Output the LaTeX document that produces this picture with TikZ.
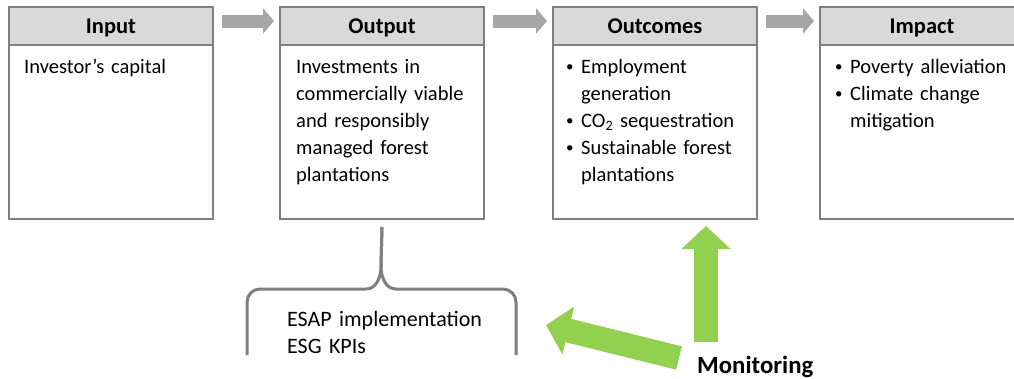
\documentclass[tikz,border=0pt]{standalone}
\usepackage{fontspec}
\setmainfont{Carlito}
\usetikzlibrary{arrows.meta,calc}
\definecolor{boxgray}{HTML}{7F7F7F}
\definecolor{headgray}{HTML}{D9D9D9}
\definecolor{arrowgray}{HTML}{A6A6A6}
\definecolor{leafgreen}{HTML}{92D050}
\newcommand{\puce}{\makebox[15pt][l]{\raisebox{1.8pt}{\fontsize{15}{15}\selectfont\textbullet}}}
\begin{document}
\begin{tikzpicture}[x=1pt,y=-1pt]
\tikzstyle{etape}=[draw=boxgray, line width=2pt, minimum width=204pt, minimum height=212pt, anchor=north west, inner sep=0pt];
\tikzstyle{entete}=[draw=boxgray, line width=2pt, fill=headgray, minimum width=204pt, minimum height=38pt, anchor=north west, inner sep=0pt, text height=19pt, text depth=4pt, font=\fontsize{22.5}{26}\selectfont\bfseries];
\tikzstyle{contenu}=[anchor=base west, inner sep=0pt, text width=200pt, align=left, font=\fontsize{20.5}{27}\selectfont];
\tikzstyle{fleche}=[line width=13pt, arrowgray, -{Triangle[length=11pt,width=25pt]}];
\tikzstyle{suivi}=[line width=24pt, leafgreen, -{Triangle[length=23pt,width=48pt]}];
\tikzstyle{accolade}=[line width=3pt, boxgray, line join=round];
\useasboundingbox (0,0) rectangle (1014,378);
\clip (0,0) rectangle (1014,378);

\node[etape] (input) at (8,6) {};
\node[etape] (output) at (279,6) {};
\node[etape] (outcomes) at (552,6) {};
\node[etape] (impact) at (819,6) {};
\node[entete] (inputhead) at (8,6) {Input};
\node[entete] (outputhead) at (279,6) {Output};
\node[entete] (outcomeshead) at (552,6) {Outcomes};
\node[entete] (impacthead) at (819,6) {Impact};

\node[contenu] (inputtext) at (24,73) {Investor's capital};
\node[contenu] (outputtext) at (296,73) {Investments in\\commercially viable\\and responsibly\\managed forest\\plantations};
\node[contenu] (outcomestext) at (566,73) {\puce Employment\\\hspace*{15pt}generation\\\puce CO\textsubscript{2} sequestration\\\puce Sustainable forest\\\hspace*{15pt}plantations};
\node[contenu] (impacttext) at (835,73) {\puce Poverty alleviation\\\puce Climate change\\\hspace*{15pt}mitigation};

\draw[fleche] ($(input.north east)+(8,15)$) -- ($(output.north west)+(-5,15)$);
\draw[fleche] ($(output.north east)+(8,15)$) -- ($(outcomes.north west)+(-5,15)$);
\draw[fleche] ($(outcomes.north east)+(8,15)$) -- ($(impact.north west)+(-5,15)$);

% accolade sous Output
\draw[accolade] (247,355) -- (247,302) to[out=90,in=180] (260,289) -- (366,289) to[out=0,in=-90] (381,266) -- ([yshift=-7pt]output.south);
\draw[accolade] ([yshift=-7pt]output.south) -- (381,266) to[out=-90,in=180] (396,289) -- (503,289) to[out=0,in=90] (516,302) -- (516,355);
\node[contenu, font=\fontsize{22}{27}\selectfont] (esap) at (287,326) {ESAP implementation\\ESG KPIs};

\node[anchor=base west, inner sep=0pt, font=\fontsize{24.8}{28}\selectfont\bfseries] (monitoring) at (697,373) {Monitoring};
\coordinate (montail) at (706,342);
\coordinate (diagtail) at (679,358);
\coordinate (diagtip) at (546,325);
\draw[suivi] (montail) -- ($(outcomes.south -| montail)+(0,6)$);
\draw[suivi] (diagtail) -- (diagtip);
\end{tikzpicture}
\end{document}
